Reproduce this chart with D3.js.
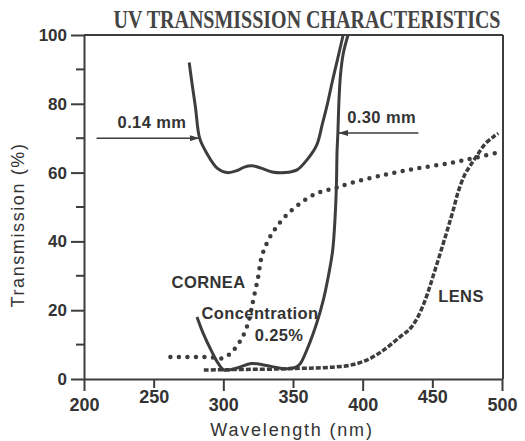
<!DOCTYPE html>
<html lang="en">
<head>
    <meta charset="UTF-8">
    <title>UV Transmission Characteristics</title>
    <script src="https://d3js.org/d3.v7.min.js"></script>
    <style>
        body { margin: 0; background: #fff; }
        svg { display: block; }
        .tick-label { font-family: "Liberation Sans", Arial, sans-serif; font-weight: bold; fill: #333; }
        .note { font-family: "Liberation Sans", Arial, sans-serif; font-weight: bold; font-size: 16.5px; fill: #333; letter-spacing: 0.4px; }
        .axis-title { font-family: "Liberation Sans", Arial, sans-serif; font-size: 18px; fill: #333; }
    </style>
</head>
<body>
    <svg id="chart" width="525" height="441"></svg>

    <script>
        // data: [wavelength nm, transmission %]
        const cornea014 = [
            [275.5, 92], [277.5, 86], [280, 79], [283, 70], [288, 65.7], [295.5, 61.3],
            [302.6, 60], [310, 60.6], [315, 61.6], [320.6, 62], [327, 61.3], [335, 60.2],
            [344.3, 60], [352.9, 60.8], [360, 63.7], [367, 68], [371, 74], [375, 80.5],
            [378.5, 87], [382, 93], [386, 100]
        ];
        const cornea030 = [
            [281.1, 18], [285.4, 13.4], [291.9, 7.8], [296.2, 4.6], [300.5, 2.6],
            [310, 3.2], [320, 4.5], [330, 4], [340, 3.2], [346, 3], [352.9, 3.6],
            [355.5, 4.6], [362, 10.5], [367, 16.2], [371.8, 23], [375.3, 29.7],
            [378.5, 37.5], [380.2, 47], [381.2, 57], [381.6, 66], [382.2, 71.5],
            [383, 81], [384, 88], [386, 94.5], [389.5, 100]
        ];
        const concentration = [
            [262, 6.4], [286, 6.4], [295, 6.2], [299.5, 6], [304.8, 7.3], [309, 9.2],
            [312.5, 11.3], [315.5, 13.7], [318, 16.5], [320, 20], [321.5, 23], [325, 29.7],
            [327.5, 35.5], [332.3, 40.4], [338.3, 44.3], [345.5, 47.7], [355, 51], [367, 54],
            [379, 55.4], [391, 56.9], [415, 59.3], [439, 61.2], [463, 62.8], [482, 64.4], [499, 66]
        ];
        const lens = [
            [286, 2.6], [300, 2.7], [320, 2.8], [340, 2.9], [355, 3.1], [367, 3.2], [380, 3.5],
            [391, 4], [403, 5.5], [415, 8.4], [427, 12.3], [434, 14.6], [439, 17.6],
            [443.5, 21.5], [447.5, 26], [451, 30.5], [454.5, 35], [458, 39.6],
            [461.5, 44.3], [465, 49.1], [468.7, 54.6], [473.5, 59.6], [477, 61.9],
            [481.8, 64.8], [487.8, 68.3], [493.8, 70.4], [497.4, 71.4]
        ];

        const xTicks = [200, 250, 300, 350, 400, 450, 500];
        const yTicks = [0, 20, 40, 60, 80, 100];
        const yMinor = [10, 30, 50, 70, 90];

        const svg = d3.select("#chart");
        const ink = "#3d3d3d";

        const x = d3.scaleLinear().domain([200, 500]).range([84, 502]);
        const y = d3.scaleLinear().domain([0, 100]).range([379, 35]);

        // title (serif, squeezed horizontally like the original print)
        svg.append("text")
            .attr("transform", "translate(307,28) scale(0.8,1)")
            .attr("text-anchor", "middle")
            .style("font-family", "'Liberation Serif', 'Times New Roman', serif")
            .style("font-weight", "bold")
            .style("font-size", "25px")
            .style("fill", "#444")
            .text("UV TRANSMISSION CHARACTERISTICS");

        // frame: top and right edges
        svg.append("line")
            .attr("x1", x(200)).attr("x2", x(500) + 1)
            .attr("y1", y(100)).attr("y2", y(100))
            .attr("stroke", ink).attr("stroke-width", 2);
        svg.append("line")
            .attr("x1", x(500) + 1).attr("x2", x(500) + 1)
            .attr("y1", y(100)).attr("y2", y(0))
            .attr("stroke", ink).attr("stroke-width", 2);

        // x axis
        const xAxis = svg.append("g")
            .attr("transform", `translate(0,${y(0)})`)
            .call(d3.axisBottom(x).tickValues(xTicks).tickSize(12).tickSizeOuter(0).tickFormat(d3.format("d")));
        xAxis.select(".domain").attr("stroke", ink).attr("stroke-width", 2);
        xAxis.selectAll(".tick line").attr("stroke", ink).attr("stroke-width", 2)
            .attr("y2", (d, i) => i % 2 ? 9 : 12);
        xAxis.selectAll(".tick text")
            .attr("class", "tick-label")
            .style("font-size", "18px")
            .attr("y", (d, i) => i % 2 ? 11 : 19);

        // y axis
        const yAxis = svg.append("g")
            .attr("transform", `translate(${x(200)},0)`)
            .call(d3.axisLeft(y).tickValues(yTicks).tickSize(13).tickSizeOuter(0));
        yAxis.select(".domain").attr("stroke", ink).attr("stroke-width", 2);
        yAxis.selectAll(".tick line").attr("stroke", ink).attr("stroke-width", 2);
        yAxis.selectAll(".tick text")
            .attr("class", "tick-label")
            .style("font-size", "17px")
            .attr("x", -17);
        yAxis.selectAll(".minor")
            .data(yMinor)
            .enter().append("line")
            .attr("x1", -8).attr("x2", 0)
            .attr("y1", d => y(d)).attr("y2", d => y(d))
            .attr("stroke", ink).attr("stroke-width", 2);

        // axis titles
        svg.append("text")
            .attr("class", "axis-title")
            .attr("x", 292)
            .attr("y", 436)
            .attr("text-anchor", "middle")
            .style("letter-spacing", "1.8px")
            .text("Wavelength (nm)");
        svg.append("text")
            .attr("class", "axis-title")
            .attr("transform", "translate(24,225) rotate(-90)")
            .attr("text-anchor", "middle")
            .style("letter-spacing", "1.6px")
            .text("Transmission (%)");

        // curves
        const line = d3.line()
            .x(d => x(d[0]))
            .y(d => y(d[1]))
            .curve(d3.curveCatmullRom.alpha(0.5));

        svg.append("path")
            .datum(concentration)
            .attr("d", line)
            .attr("fill", "none")
            .attr("stroke", ink)
            .attr("stroke-width", 4.5)
            .attr("stroke-linecap", "round")
            .attr("stroke-dasharray", "0 8.5");

        svg.append("path")
            .datum(lens)
            .attr("d", line)
            .attr("fill", "none")
            .attr("stroke", ink)
            .attr("stroke-width", 3.5)
            .attr("stroke-dasharray", "5 2");

        [cornea014, cornea030].forEach(s => {
            svg.append("path")
                .datum(s)
                .attr("d", line)
                .attr("fill", "none")
                .attr("stroke", ink)
                .attr("stroke-width", 3);
        });

        // arrows
        const defs = svg.append("defs");
        defs.append("marker")
            .attr("id", "head")
            .attr("viewBox", "0 0 10 6")
            .attr("refX", 10).attr("refY", 3)
            .attr("markerWidth", 10).attr("markerHeight", 6)
            .attr("markerUnits", "userSpaceOnUse")
            .attr("orient", "auto")
            .append("path")
            .attr("d", "M0,0L10,3L0,6Z")
            .attr("fill", ink);

        svg.append("line")
            .attr("x1", x(209)).attr("x2", x(283))
            .attr("y1", y(70)).attr("y2", y(70))
            .attr("stroke", ink).attr("stroke-width", 1.6)
            .attr("marker-end", "url(#head)");
        svg.append("line")
            .attr("x1", x(440)).attr("x2", x(382.5))
            .attr("y1", y(71.5)).attr("y2", y(71.5))
            .attr("stroke", ink).attr("stroke-width", 1.6)
            .attr("marker-end", "url(#head)");

        // labels
        const notes = [
            { t: "0.14 mm", wl: 248.8, v: 73 },
            { t: "0.30 mm", wl: 413.6, v: 74.4 },
            { t: "CORNEA", wl: 289.4, v: 26.5 },
            { t: "Concentration", wl: 326.3, v: 17.4 },
            { t: "0.25%", wl: 340, v: 11 },
            { t: "LENS", wl: 470.6, v: 22.4 }
        ];
        svg.selectAll(".note")
            .data(notes)
            .enter().append("text")
            .attr("class", "note")
            .attr("x", d => x(d.wl))
            .attr("y", d => y(d.v))
            .attr("text-anchor", "middle")
            .text(d => d.t);
    </script>
</body>
</html>
